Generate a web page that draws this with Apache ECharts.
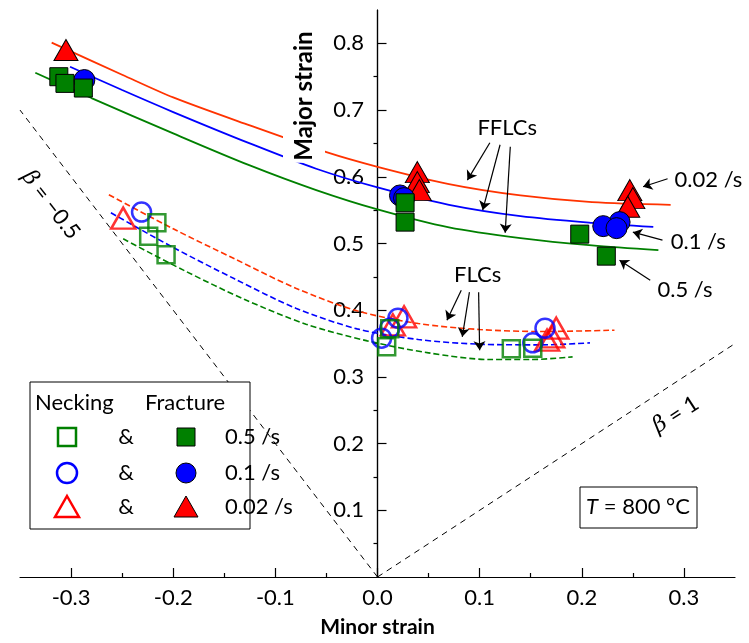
<!DOCTYPE html>
<html>
<head>
<meta charset="utf-8">
<script src="https://cdn.jsdelivr.net/npm/echarts@6/dist/echarts.min.js"></script>
<style>
  html, body { margin: 0; padding: 0; background: #fff; }
  #chart { width: 749px; height: 643px; }
</style>
</head>
<body>
<div id="chart"></div>
<script>
const FONT = 'Lato, "Noto Sans", sans-serif';
const GREEN = '#008000', BLUE = '#0000ff', RED = '#ff0000', ORANGE = '#ff3300';

// axis ticks
const xMajorTicks = [-0.3, -0.2, -0.1, 0, 0.1, 0.2, 0.3];
const xMinorTicks = [-0.25, -0.15, -0.05, 0.05, 0.15, 0.25];
const yMajorTicks = [0.1, 0.2, 0.3, 0.4, 0.5, 0.6, 0.7, 0.8];
const yMinorTicks = [0.05, 0.15, 0.25, 0.35, 0.45, 0.55, 0.65, 0.75];

// fracture forming limit curves (solid)
const fflc002 = [[-0.319, 0.801], [-0.25, 0.753], [-0.2, 0.719], [-0.125, 0.677], [-0.05, 0.637], [0, 0.615], [0.07, 0.589], [0.14, 0.572], [0.21, 0.562], [0.287, 0.558]];
const fflc01 = [[-0.301, 0.765], [-0.25, 0.73], [-0.2, 0.697], [-0.125, 0.65], [-0.06, 0.612], [0, 0.584], [0.07, 0.558], [0.14, 0.541], [0.21, 0.531], [0.27, 0.525]];
const fflc05 = [[-0.335, 0.756], [-0.28, 0.718], [-0.2, 0.665], [-0.125, 0.617], [-0.06, 0.58], [0, 0.551], [0.07, 0.524], [0.14, 0.508], [0.21, 0.497], [0.275, 0.49]];

// forming limit curves (dashed)
const flc002 = [[-0.263, 0.573], [-0.2, 0.522], [-0.14, 0.477], [-0.08, 0.433], [-0.02, 0.399], [0.04, 0.38], [0.1, 0.371], [0.16, 0.368], [0.232, 0.37]];
const flc01 = [[-0.261, 0.546], [-0.2, 0.494], [-0.14, 0.447], [-0.08, 0.403], [-0.02, 0.372], [0.04, 0.356], [0.1, 0.349], [0.16, 0.348], [0.208, 0.351]];
const flc05 = [[-0.249, 0.507], [-0.19, 0.46], [-0.13, 0.416], [-0.07, 0.379], [-0.01, 0.354], [0.05, 0.336], [0.11, 0.326], [0.15, 0.326], [0.191, 0.33]];

// strain paths
const betaMinusHalf = [[0, 0], [-0.35, 0.7]];
const betaOne = [[0, 0], [0.35, 0.35]];

// fracture points
const frac05 = [[-0.312, 0.75], [-0.306, 0.74], [-0.288, 0.733], [0.027, 0.561], [0.027, 0.532], [0.198, 0.514], [0.224, 0.481]];
const frac01 = [[-0.287, 0.745], [0.022, 0.572], [0.026, 0.568], [0.237, 0.532], [0.221, 0.526], [0.234, 0.523]];
const frac002 = [[-0.305, 0.79], [0.039, 0.607], [0.039, 0.592], [0.041, 0.58], [0.247, 0.58], [0.25, 0.568], [0.245, 0.555]];

// necking points
const neck05 = [[-0.216, 0.531], [-0.224, 0.511], [-0.207, 0.483], [0.012, 0.372], [0.009, 0.345], [0.131, 0.342], [0.152, 0.343]];
const neck01 = [[-0.231, 0.547], [0.02, 0.388], [0.012, 0.373], [0.004, 0.358], [0.164, 0.373], [0.152, 0.351]];
const neck002 = [[-0.249, 0.538], [0.026, 0.39], [0.015, 0.378], [0.175, 0.373], [0.171, 0.36], [0.166, 0.355]];

// annotation arrows: [from, to]
const fflcArrows = [[[0.11, 0.651], [0.088, 0.595]], [[0.12, 0.648], [0.103, 0.55]], [[0.13, 0.645], [0.125, 0.516]]];
const flcArrows = [[[0.082, 0.43], [0.068, 0.385]], [[0.09, 0.427], [0.083, 0.36]], [[0.099, 0.427], [0.1, 0.34]]];
const rateArrows = [[[0.284, 0.597], [0.26, 0.585]], [[0.279, 0.505], [0.25, 0.517]], [[0.267, 0.445], [0.237, 0.475]]];

// annotation text anchors
const notes = [
  { text: 'FFLCs', at: [0.127, 0.673] },
  { text: 'FLCs', at: [0.098, 0.453] },
  { text: '0.02 /s', at: [0.324, 0.595] },
  { text: '0.1 /s', at: [0.314, 0.502] },
  { text: '0.5 /s', at: [0.301, 0.43] },
];
const betaNotes = [
  { text: '{i|β} = −0.5', at: [-0.32, 0.558], angle: -52 },
  { text: '{i|β} = 1', at: [0.292, 0.243], angle: 33 },
];

const chart = echarts.init(document.getElementById('chart'));

const curve = (data, color, dashed) => ({
  type: 'line', data, smooth: 0.3, symbol: 'none', silent: true,
  lineStyle: { color, width: dashed ? 1.6 : 1.8, type: dashed ? [6, 3] : 'solid' },
  z: 2,
});
const guide = (data) => ({
  type: 'line', data, symbol: 'none', silent: true,
  lineStyle: { color: '#000', width: 1, type: [6, 5] }, z: 1,
});
const hollow = (data, symbol, size, color) => ({
  type: 'scatter', data, symbol, symbolSize: size,
  itemStyle: { color: 'rgba(0,0,0,0)', borderColor: color, borderWidth: 2.5 }, z: 3,
});
const filled = (data, symbol, size, color) => ({
  type: 'scatter', data, symbol, symbolSize: size,
  itemStyle: { color, borderColor: '#000', borderWidth: 1, opacity: 1 }, z: 4,
});
const arrows = (pairs) => ({
  type: 'lines', coordinateSystem: 'cartesian2d', silent: true,
  data: pairs.map(p => ({ coords: p })),
  symbol: ['none', 'arrow'], symbolSize: 9,
  lineStyle: { color: '#000', width: 1.2, opacity: 1 }, z: 5,
});

const axisText = { color: '#000', fontFamily: FONT, fontSize: 22 };

chart.setOption({
  animation: false,
  backgroundColor: '#fff',
  grid: { left: 20, right: 14, top: 10, bottom: 66, outerBoundsMode: 'none', containLabel: false },
  xAxis: [
    {
      type: 'value', min: -0.35, max: 0.35,
      name: 'Minor strain', nameLocation: 'middle', nameGap: 40,
      nameTextStyle: { color: '#000', fontFamily: FONT, fontSize: 21, fontWeight: 'bold' },
      axisLine: { lineStyle: { color: '#000', width: 1.2 } },
      axisTick: { inside: true, length: 9, customValues: xMajorTicks, lineStyle: { color: '#000', width: 1.2 } },
      axisLabel: { ...axisText, margin: 10, customValues: xMajorTicks, formatter: v => v.toFixed(1) },
      splitLine: { show: false },
    },
    {
      type: 'value', min: -0.35, max: 0.35, position: 'bottom',
      axisLine: { show: false },
      axisTick: { inside: true, length: 4, customValues: xMinorTicks, lineStyle: { color: '#000', width: 1.2 } },
      axisLabel: { show: false },
      splitLine: { show: false },
    },
  ],
  yAxis: [
    {
      type: 'value', min: 0, max: 0.85,
      axisLine: { onZero: true, lineStyle: { color: '#000', width: 1.2 } },
      axisTick: { inside: true, length: 9, customValues: yMajorTicks, lineStyle: { color: '#000', width: 1.2 } },
      // labels stay at the grid edge, so pull them back next to the centred axis line
      axisLabel: { ...axisText, margin: -344, customValues: yMajorTicks, formatter: v => v.toFixed(1) },
      splitLine: { show: false },
    },
    {
      type: 'value', min: 0, max: 0.85,
      axisLine: { onZero: true, lineStyle: { color: '#000', width: 1.2 } },
      axisTick: { inside: true, length: 4, customValues: yMinorTicks, lineStyle: { color: '#000', width: 1.2 } },
      axisLabel: { show: false },
      splitLine: { show: false },
    },
  ],
  series: [
    guide(betaMinusHalf),
    guide(betaOne),
    curve(fflc002, ORANGE, false),
    curve(fflc01, BLUE, false),
    curve(fflc05, GREEN, false),
    curve(flc002, ORANGE, true),
    curve(flc01, BLUE, true),
    curve(flc05, GREEN, true),
    hollow(neck002, 'triangle', [24, 21], RED),
    hollow(neck01, 'circle', 19, BLUE),
    hollow(neck05, 'rect', 17, GREEN),
    filled(frac002, 'triangle', [24, 21], RED),
    filled(frac01, 'circle', 21, BLUE),
    filled(frac05, 'rect', 18, GREEN),
    arrows(fflcArrows),
    arrows(flcArrows),
    arrows(rateArrows),
  ],
});

const px = p => chart.convertToPixel({ xAxisIndex: 0, yAxisIndex: 0 }, p);
const txt = { fill: '#000', fontFamily: FONT, fontSize: 22 };
const g = [];

// y axis title with a white backing that hides the curves beneath it
g.push({
  type: 'text', x: 304, y: 96, rotation: Math.PI / 2, z: 100,
  style: { ...txt, text: 'Major strain', fontSize: 24, fontWeight: 'bold', align: 'center', verticalAlign: 'middle',
    backgroundColor: '#fff', padding: [9, 2] },
});

notes.forEach(n => {
  const [x, y] = px(n.at);
  g.push({ type: 'text', x, y, z: 100, style: { ...txt, text: n.text, align: 'center', verticalAlign: 'middle' } });
});
betaNotes.forEach(n => {
  const [x, y] = px(n.at);
  g.push({
    type: 'text', x, y, z: 100, rotation: n.angle * Math.PI / 180,
    style: { ...txt, text: n.text, align: 'center', verticalAlign: 'middle',
      rich: { i: { fontFamily: '"DejaVu Serif", serif', fontStyle: 'italic', fontSize: 22 } } },
  });
});

// legend box
const L = { x: 30, y: 382, w: 220, h: 147 };
g.push({ type: 'rect', z: 100, shape: { x: L.x, y: L.y, width: L.w, height: L.h }, style: { fill: '#fff', stroke: '#000', lineWidth: 1 } });
g.push({ type: 'text', x: 35, y: 403, z: 101, style: { ...txt, text: 'Necking', verticalAlign: 'middle' } });
g.push({ type: 'text', x: 145, y: 403, z: 101, style: { ...txt, text: 'Fracture', verticalAlign: 'middle' } });
const rows = [
  { y: 437, shape: 'rect', color: GREEN, label: '0.5 /s' },
  { y: 473, shape: 'circle', color: BLUE, label: '0.1 /s' },
  { y: 507, shape: 'tri', color: RED, label: '0.02 /s' },
];
const sym = (shape, cx, cy, style) => {
  if (shape === 'rect') return { type: 'rect', z: 101, shape: { x: cx - 9, y: cy - 9, width: 18, height: 18 }, style };
  if (shape === 'circle') return { type: 'circle', z: 101, shape: { cx, cy, r: 10 }, style };
  return { type: 'polygon', z: 101, shape: { points: [[cx, cy - 11], [cx + 12, cy + 10], [cx - 12, cy + 10]] }, style };
};
rows.forEach(r => {
  g.push(sym(r.shape, 67, r.y, { fill: 'none', stroke: r.color, lineWidth: 2.5 }));
  g.push({ type: 'text', x: 126, y: r.y, z: 101, style: { ...txt, text: '&', align: 'center', verticalAlign: 'middle' } });
  g.push(sym(r.shape, 186, r.y, { fill: r.color, stroke: '#000', lineWidth: 1 }));
  g.push({ type: 'text', x: 225, y: r.y, z: 101, style: { ...txt, text: r.label, verticalAlign: 'middle' } });
});

// temperature box
g.push({ type: 'rect', z: 100, shape: { x: 580, y: 487, width: 117, height: 41 }, style: { fill: '#fff', stroke: '#000', lineWidth: 1 } });
g.push({
  type: 'text', x: 638, y: 507, z: 101,
  style: { ...txt, text: '{i|T} = 800 °C', align: 'center', verticalAlign: 'middle',
    rich: { i: { fontStyle: 'italic', fontFamily: FONT, fontSize: 22 } } },
});

chart.setOption({ graphic: g });
</script>
</body>
</html>
